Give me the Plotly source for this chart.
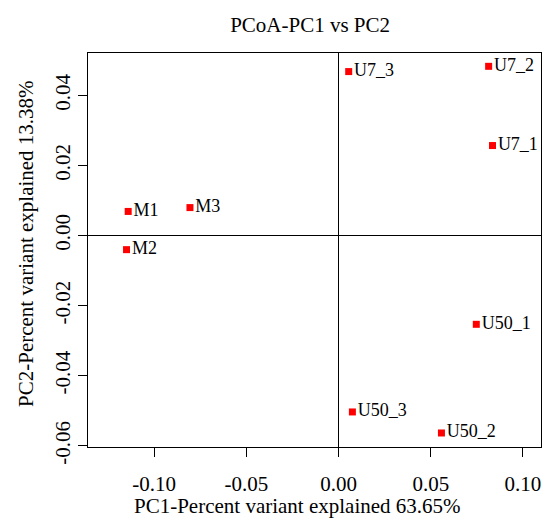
import plotly.graph_objects as go

samples = ["M1", "M2", "M3", "U7_1", "U7_2", "U7_3", "U50_1", "U50_2", "U50_3"]
pc1 = [-0.1141, -0.1150, -0.0806, 0.0835, 0.0814, 0.0055, 0.0747, 0.0558, 0.0075]
pc2 = [0.0069, -0.0040, 0.0080, 0.0257, 0.0483, 0.0468, -0.0253, -0.0563, -0.0503]

x_ticks = [-0.10, -0.05, 0.00, 0.05, 0.10]
x_tick_labels = ["-0.10", "-0.05", "0.00", "0.05", "0.10"]
y_ticks = [-0.06, -0.04, -0.02, 0.00, 0.02, 0.04]
y_tick_labels = ["-0.06", "-0.04", "-0.02", "0.00", "0.02", "0.04"]

x_title = "PC1-Percent variant explained 63.65%"
y_title = "PC2-Percent variant explained 13.38%"

FONT = "Liberation Serif"

fig = go.Figure()
fig.add_trace(go.Scatter(
    x=pc1, y=pc2, mode="markers+text", text=samples,
    textposition="middle right",
    textfont=dict(family=FONT, size=18, color="black"),
    marker=dict(symbol="square", size=7, color="#ff0000"),
    cliponaxis=False, showlegend=False,
))

fig.update_layout(
    width=545, height=518,
    margin=dict(l=88, r=4, t=53, b=71),
    paper_bgcolor="white", plot_bgcolor="white",
    font=dict(family=FONT, size=21, color="black"),
    title=dict(text="PCoA-PC1 vs PC2", x=0.569, xanchor="center",
               y=1 - 25 / 518, yref="container", yanchor="middle",
               font=dict(family=FONT, size=21, color="black")),
    annotations=[
        dict(text=x_title, xref="paper", yref="paper", x=0.4625, y=-0.1497,
             xanchor="center", yanchor="middle", showarrow=False,
             font=dict(family=FONT, size=21, color="black")),
        dict(text=y_title, xref="paper", yref="paper", x=-0.1369, y=0.5178,
             xanchor="center", yanchor="middle", showarrow=False, textangle=-90,
             font=dict(family=FONT, size=21, color="black")),
    ],
)
fig.update_xaxes(
    range=[-0.1359, 0.1098], tickvals=x_ticks, ticktext=x_tick_labels,
    showgrid=False, zeroline=True, zerolinecolor="black", zerolinewidth=1,
    showline=True, mirror=True, linecolor="black", linewidth=1,
    ticks="outside", ticklen=9, tickcolor="black", ticklabelstandoff=9,
    automargin=False,
    tickfont=dict(family=FONT, size=21),
)
fig.update_yaxes(
    range=[-0.0603, 0.0521], tickvals=y_ticks, ticktext=y_tick_labels,
    showgrid=False, zeroline=True, zerolinecolor="black", zerolinewidth=1,
    showline=True, mirror=True, linecolor="black", linewidth=1,
    ticks="outside", ticklen=9, tickcolor="black", tickangle=-90,
    ticklabelstandoff=0, automargin=False,
    tickfont=dict(family=FONT, size=21),
)

fig.write_html("out.html", config={"displayModeBar": False})
with open("out.html", encoding="utf-8") as f:
    html = f.read()
html = html.replace("<body>", '<body style="margin:0;padding:0;overflow:hidden">', 1)
with open("out.html", "w", encoding="utf-8") as f:
    f.write(html)
